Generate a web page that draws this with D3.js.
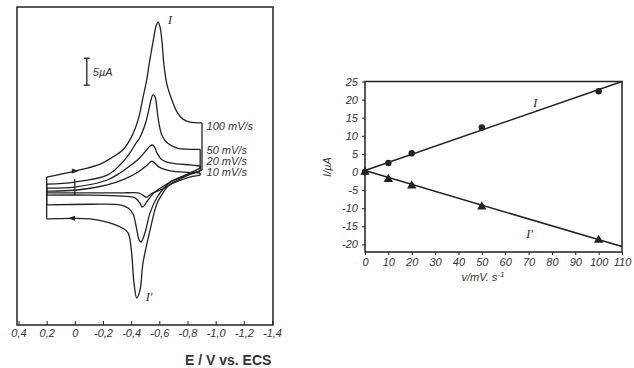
<!DOCTYPE html>
<html>
<head>
<meta charset="utf-8">
<script src="https://cdn.jsdelivr.net/npm/d3@7"></script>
<style>
body { margin: 0; background: #fff; }
svg { display: block; }
.tk text, .lbl { font-family: "Liberation Sans", Arial, sans-serif; font-style: italic; font-size: 11px; fill: #333; }
.roman { font-family: "Liberation Serif", serif; font-style: italic; font-size: 12px; fill: #222; }
</style>
</head>
<body>
<svg id="chart" width="634" height="368"></svg>
<script>
// ---- left panel: cyclic voltammograms (E in V, I in uA) ----
var rates = ["100 mV/s", "50 mV/s", "20 mV/s", "10 mV/s"];
var rateLabelI = [11.9, 7.4, 5.4, 3.3];

var fwd100 = [[0.20,2.45],[0.00,3.56],[-0.18,4.86],[-0.27,6.16],[-0.34,7.46],[-0.39,9.31],[-0.43,11.54],[-0.46,14.14],
  [-0.48,16.73],[-0.51,20.45],[-0.53,23.78],[-0.555,27.5],[-0.577,30.46],[-0.591,31.2],[-0.605,30.3],[-0.619,27.5],
  [-0.633,23.2],[-0.655,19.5],[-0.69,16.7],[-0.726,14.5],[-0.768,13.2],[-0.818,12.65],[-0.903,12.5]];
var rev100 = [[-0.903,3.75],[-0.82,3.0],[-0.733,1.9],[-0.662,0.8],[-0.626,-0.5],[-0.584,-2.4],[-0.534,-7.4],[-0.484,-13.5],
  [-0.463,-18.5],[-0.44,-20.0],[-0.42,-17.2],[-0.406,-12.4],[-0.392,-9.2],[-0.378,-7.9],[-0.349,-7.2],[-0.307,-6.6],
  [-0.229,-5.9],[-0.108,-5.3],[0.02,-5.2],[0.20,-5.3]];
var fwd50 = [[0.20,1.15],[0.00,1.52],[-0.23,2.82],[-0.32,4.68],[-0.39,6.9],[-0.43,8.57],[-0.46,9.7],[-0.50,12.3],
  [-0.52,14.3],[-0.54,16.7],[-0.555,17.7],[-0.57,17.3],[-0.584,14.9],[-0.598,12.3],[-0.62,10.1],[-0.655,8.8],
  [-0.726,7.8],[-0.818,7.6],[-0.89,7.6]];
var rev50 = [[-0.89,4.1],[-0.783,2.8],[-0.676,1.5],[-0.62,0.0],[-0.584,-1.3],[-0.534,-4.2],[-0.498,-7.9],[-0.47,-9.6],
  [-0.456,-9.2],[-0.442,-7.6],[-0.413,-4.4],[-0.378,-3.3],[-0.321,-2.7],[-0.108,-2.6],[0.20,-2.7]];
var fwd20 = [[0.20,0.4],[0.00,0.6],[-0.23,1.9],[-0.32,3.2],[-0.39,4.5],[-0.46,6.0],[-0.51,7.5],[-0.534,8.2],
  [-0.548,8.4],[-0.562,8.2],[-0.584,6.9],[-0.612,5.8],[-0.655,5.2],[-0.726,4.9],[-0.818,4.7],[-0.89,4.5]];
var rev20 = [[-0.89,3.6],[-0.797,2.8],[-0.69,1.7],[-0.62,0.6],[-0.569,-0.3],[-0.52,-1.8],[-0.491,-2.9],[-0.477,-3.1],
  [-0.463,-2.4],[-0.427,-1.4],[-0.342,-1.1],[-0.108,-0.9],[0.20,-0.9]];
var fwd10 = [[0.20,-0.15],[0.00,0.0],[-0.23,1.0],[-0.356,2.1],[-0.449,3.4],[-0.506,4.5],[-0.534,5.2],[-0.548,5.4],
  [-0.569,5.0],[-0.598,4.3],[-0.655,3.75],[-0.747,3.4],[-0.89,3.2]];
var rev10 = [[-0.89,2.8],[-0.797,2.3],[-0.69,1.2],[-0.62,0.2],[-0.555,-0.5],[-0.52,-1.1],[-0.506,-1.3],[-0.484,-0.9],
  [-0.449,-0.5],[-0.321,-0.5],[-0.037,-0.5],[0.20,-0.5]];

var eTicks = [0.4, 0.2, 0, -0.2, -0.4, -0.6, -0.8, -1.0, -1.2, -1.4];

// ---- right panel: peak current vs scan rate ----
var scanRate = [0, 10, 20, 50, 100];
var peakI = [0, 2.5, 5.2, 12.3, 22.3];
var peakIc = [0, -2.0, -3.8, -9.6, -18.8];
var fitV = [0, 110];
var fitI = [0.4, 25];
var fitIc = [0.4, -20.6];
var vTicks = d3.range(0, 111, 10);
var iTicks = d3.range(-20, 26, 5);

var svg = d3.select("#chart");
var ink = "#222";

////////// left panel //////////
var xE = d3.scaleLinear().domain([0.4, -1.4]).range([18.5, 272]);
var yI = d3.scaleLinear().domain([-25, 34]).range([325, 7]);

var left = svg.append("g");
left.append("rect")
  .attr("x", 17).attr("y", 7)
  .attr("width", 256).attr("height", 318)
  .attr("fill", "none").attr("stroke", ink).attr("stroke-width", 1.5);

var fmtE = function(v) {
  if (v === 0) return "0";
  return (v < 0 ? "-" : "") + Math.abs(v).toFixed(1).replace(".", ",");
};
var axE = left.append("g").attr("class", "tk")
  .attr("transform", "translate(0,325)")
  .call(d3.axisBottom(xE).tickValues(eTicks).tickFormat(fmtE).tickSizeInner(-4).tickSizeOuter(0).tickPadding(4));
axE.select(".domain").remove();
axE.selectAll("line").attr("stroke", ink);

left.append("text")
  .attr("x", 185).attr("y", 365)
  .attr("font-family", "Liberation Sans, Arial, sans-serif")
  .attr("font-size", "14px").attr("font-weight", "bold").attr("fill", "#333")
  .text("E / V vs. ECS");

var cv = d3.line().x(function(d){ return xE(d[0]); }).y(function(d){ return yI(d[1]); })
  .curve(d3.curveCatmullRom.alpha(0.5));
var seg = d3.line().x(function(d){ return xE(d[0]); }).y(function(d){ return yI(d[1]); });

var loops = [[fwd100, rev100], [fwd50, rev50], [fwd20, rev20], [fwd10, rev10]];
loops.forEach(function(lp) {
  var f = lp[0], r = lp[1];
  [cv(f), cv(r), seg([f[f.length-1], r[0]]), seg([r[r.length-1], f[0]])].forEach(function(p) {
    left.append("path").attr("d", p)
      .attr("fill", "none").attr("stroke", ink).attr("stroke-width", 1.3);
  });
});

// direction arrows on the 100 mV/s loop
function arrow(pt, dir) {
  var x = xE(pt[0]), y = yI(pt[1]);
  left.append("path")
    .attr("d", "M" + (x + 4*dir) + "," + y + "L" + (x - 3*dir) + "," + (y - 2.5) + "L" + (x - 3*dir) + "," + (y + 2.5) + "Z")
    .attr("fill", ink);
}
arrow(fwd100[1], 1);
arrow(rev100[18], -1);

// small vertical mark crossing the inner loops at E = 0
left.append("line")
  .attr("x1", xE(0)).attr("x2", xE(0))
  .attr("y1", yI(fwd50[1][1]) - 3).attr("y2", yI(rev10[10][1]) + 2)
  .attr("stroke", ink).attr("stroke-width", 1.2);

// 5 uA scale bar
var barE = -0.085, barI = [19.5, 24.5];
left.append("line")
  .attr("x1", xE(barE)).attr("x2", xE(barE))
  .attr("y1", yI(barI[0])).attr("y2", yI(barI[1]))
  .attr("stroke", ink).attr("stroke-width", 1.3);
barI.forEach(function(v) {
  left.append("line")
    .attr("x1", xE(barE) - 3).attr("x2", xE(barE) + 3)
    .attr("y1", yI(v)).attr("y2", yI(v))
    .attr("stroke", ink).attr("stroke-width", 1.3);
});
left.append("text").attr("class", "lbl")
  .attr("x", xE(barE) + 6).attr("y", yI(22)).attr("dy", "0.35em")
  .attr("font-size", "9px")
  .text("5µA");

// scan rate labels
left.selectAll(".rate")
  .data(rates)
  .enter()
  .append("text")
  .attr("class", "lbl")
  .attr("x", xE(-0.9) + 5)
  .attr("y", function(d, i){ return yI(rateLabelI[i]); })
  .attr("dy", "0.35em")
  .attr("font-size", "9px")
  .text(function(d){ return d; });

left.append("text").attr("class", "roman")
  .attr("x", xE(-0.591) + 10).attr("y", yI(31.2) + 2)
  .text("I");
left.append("text").attr("class", "roman")
  .attr("x", xE(-0.44) + 9).attr("y", yI(-20.0) + 3)
  .text("I'");

////////// right panel //////////
var xV = d3.scaleLinear().domain([0, 110]).range([365, 622]);
var yP = d3.scaleLinear().domain([-22.1, 25]).range([252, 81.5]);

var right = svg.append("g");
right.append("rect")
  .attr("x", 365).attr("y", 81.5)
  .attr("width", 257).attr("height", 170.5)
  .attr("fill", "none").attr("stroke", ink).attr("stroke-width", 1.5);

var axV = right.append("g").attr("class", "tk")
  .attr("transform", "translate(0,252)")
  .call(d3.axisBottom(xV).tickValues(vTicks).tickSizeInner(3).tickSizeOuter(0).tickPadding(3));
axV.select(".domain").remove();
axV.selectAll("line").attr("stroke", ink);

var axP = right.append("g").attr("class", "tk")
  .attr("transform", "translate(365,0)")
  .call(d3.axisLeft(yP).tickValues(iTicks).tickFormat(function(v){ return v < 0 ? "-" + (-v) : "" + v; })
    .tickSizeInner(3).tickSizeOuter(0).tickPadding(4));
axP.select(".domain").remove();
axP.selectAll("line").attr("stroke", ink);

var xt = right.append("text").attr("class", "lbl")
  .attr("x", 483).attr("y", 281).attr("text-anchor", "middle")
  .attr("font-size", "12px");
xt.append("tspan").text("v/mV. s");
xt.append("tspan").attr("dy", -4).attr("font-size", "8px").text("-1");

right.append("text").attr("class", "lbl")
  .attr("transform", "translate(331,167) rotate(-90)")
  .attr("text-anchor", "middle")
  .attr("font-size", "12px")
  .text("I/µA");

var fitLine = d3.line().x(function(d){ return xV(d[0]); }).y(function(d){ return yP(d[1]); });
[fitI, fitIc].forEach(function(fy) {
  right.append("path")
    .attr("d", fitLine(fitV.map(function(v, i){ return [v, fy[i]]; })))
    .attr("fill", "none").attr("stroke", ink).attr("stroke-width", 1.5);
});

right.selectAll(".dot")
  .data(scanRate)
  .enter()
  .append("circle")
  .attr("cx", function(d){ return xV(d); })
  .attr("cy", function(d, i){ return yP(peakI[i]); })
  .attr("r", 3.2)
  .attr("fill", ink);

var tri = d3.symbol().type(d3.symbolTriangle).size(38);
right.selectAll(".tri")
  .data(scanRate)
  .enter()
  .append("path")
  .attr("d", tri)
  .attr("transform", function(d, i){ return "translate(" + xV(d) + "," + yP(peakIc[i]) + ")"; })
  .attr("fill", ink);

right.append("text").attr("class", "roman")
  .attr("x", xV(72)).attr("y", yP(19)).attr("dy", "0.35em")
  .text("I");
right.append("text").attr("class", "roman")
  .attr("x", xV(69)).attr("y", yP(-17)).attr("dy", "0.35em")
  .text("I'");
</script>
</body>
</html>
